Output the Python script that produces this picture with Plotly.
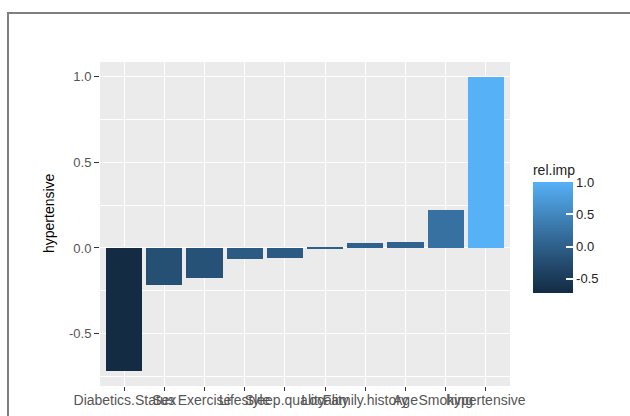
import plotly.graph_objects as go

categories = ["Diabetics.Status", "Sex", "Exercise", "Lifestyle", "Sleep.quality",
              "Locality", "Family.history", "Age", "Smoking", "hypertensive"]
rel_imp = [-0.72, -0.215, -0.175, -0.064, -0.058, -0.008, 0.029, 0.037, 0.223, 1.0]
y_ticks = [-0.5, 0.0, 0.5, 1.0]
y_ticktext = ["-0.5", "0.0", "0.5", "1.0"]
cbar_ticks = [-0.5, 0.0, 0.5, 1.0]
cbar_ticktext = ["-0.5", "0.0", "0.5", "1.0"]


# ggplot2-like Lab interpolation between low and high colours
def _hex2rgb(h):
    h = h.lstrip("#")
    return [int(h[i:i + 2], 16) / 255 for i in (0, 2, 4)]


def _lin(c):
    return c / 12.92 if c <= 0.04045 else ((c + 0.055) / 1.055) ** 2.4


def _delin(c):
    c = max(0.0, min(1.0, c))
    return 12.92 * c if c <= 0.0031308 else 1.055 * c ** (1 / 2.4) - 0.055


WP = (0.95047, 1.0, 1.08883)


def _rgb2lab(rgb):
    r, g, b = [_lin(c) for c in rgb]
    x = 0.4124 * r + 0.3576 * g + 0.1805 * b
    y = 0.2126 * r + 0.7152 * g + 0.0722 * b
    z = 0.0193 * r + 0.1192 * g + 0.9505 * b
    def f(t):
        return t ** (1 / 3) if t > 0.008856 else 7.787 * t + 16 / 116
    fx, fy, fz = f(x / WP[0]), f(y / WP[1]), f(z / WP[2])
    return (116 * fy - 16, 500 * (fx - fy), 200 * (fy - fz))


def _lab2rgb(lab):
    L, a, b = lab
    fy = (L + 16) / 116
    fx = fy + a / 500
    fz = fy - b / 200
    def finv(t):
        return t ** 3 if t ** 3 > 0.008856 else (t - 16 / 116) / 7.787
    x, y, z = finv(fx) * WP[0], finv(fy) * WP[1], finv(fz) * WP[2]
    r = 3.2406 * x - 1.5372 * y - 0.4986 * z
    g = -0.9689 * x + 1.8758 * y + 0.0415 * z
    bb = 0.0557 * x - 0.2040 * y + 1.0570 * z
    return "#%02x%02x%02x" % tuple(round(_delin(c) * 255) for c in (r, g, bb))


low, high = _rgb2lab(_hex2rgb("#132B43")), _rgb2lab(_hex2rgb("#56B1F7"))
n = 10
colorscale = [[i / n, _lab2rgb(tuple(low[k] + (high[k] - low[k]) * i / n for k in range(3)))]
              for i in range(n + 1)]

vmin, vmax = min(rel_imp), max(rel_imp)
span = vmax - vmin
FONT = "Liberation Sans, Arial, sans-serif"

fig = go.Figure()
fig.add_trace(go.Bar(
    x=categories, y=rel_imp, width=0.9,
    marker=dict(
        color=rel_imp, colorscale=colorscale, cmin=vmin, cmax=vmax,
        line=dict(width=0),
        colorbar=dict(
            title=dict(text="rel.imp", side="top", font=dict(size=14, color="#222222")),
            tickvals=cbar_ticks, ticktext=cbar_ticktext,
            ticks="inside", ticklen=7, tickcolor="white", tickwidth=1.5,
            tickfont=dict(size=13, color="#222222"),
            thickness=40, thicknessmode="pixels",
            len=132, lenmode="pixels",
            x=1.056, xanchor="left", y=(386 - 293) / 324, yanchor="bottom",
            outlinewidth=0, xpad=0, ypad=0,
        ),
    ),
    showlegend=False,
))

fig.update_layout(
    width=630, height=416,
    margin=dict(l=100, r=120, t=62, b=30, autoexpand=False),
    paper_bgcolor="white",
    plot_bgcolor="#EBEBEB",
    font=dict(family=FONT, size=12, color="#4D4D4D"),
    bargap=0,
    xaxis=dict(
        type="category", range=[-0.6, len(categories) - 0.4],
        showgrid=True, gridcolor="white", gridwidth=1.2,
        ticks="outside", ticklen=4, tickcolor="#333333",
        tickfont=dict(size=14, color="#555555"), tickangle=0,
        ticklabelstandoff=-3,
        zeroline=False, showline=False, automargin=False,
    ),
    yaxis=dict(
        range=[vmin - 0.05 * span, vmax + 0.05 * span],
        tickvals=y_ticks, ticktext=y_ticktext,
        showgrid=True, gridcolor="white", gridwidth=1.2,
        minor=dict(dtick=0.25, tick0=0, showgrid=True, gridcolor="white", gridwidth=0.6, ticks=""),
        ticks="outside", ticklen=5, tickcolor="#333333",
        tickfont=dict(size=13, color="#555555"),
        zeroline=False, showline=False, automargin=False,
    ),
    annotations=[dict(text="hypertensive", textangle=-90, showarrow=False,
                      xref="paper", yref="paper",
                      x=(49 - 100) / 410, y=(386 - 213) / 324,
                      xanchor="center", yanchor="middle",
                      font=dict(family=FONT, size=14, color="black"))],
    shapes=[dict(type="rect", xref="paper", yref="paper",
                 x0=-0.2244, x1=1.32, y0=-0.14, y1=1.151,
                 line=dict(color="#7F7F7F", width=2), fillcolor="rgba(0,0,0,0)",
                 layer="above")],
)

fig.write_html("out.html")
